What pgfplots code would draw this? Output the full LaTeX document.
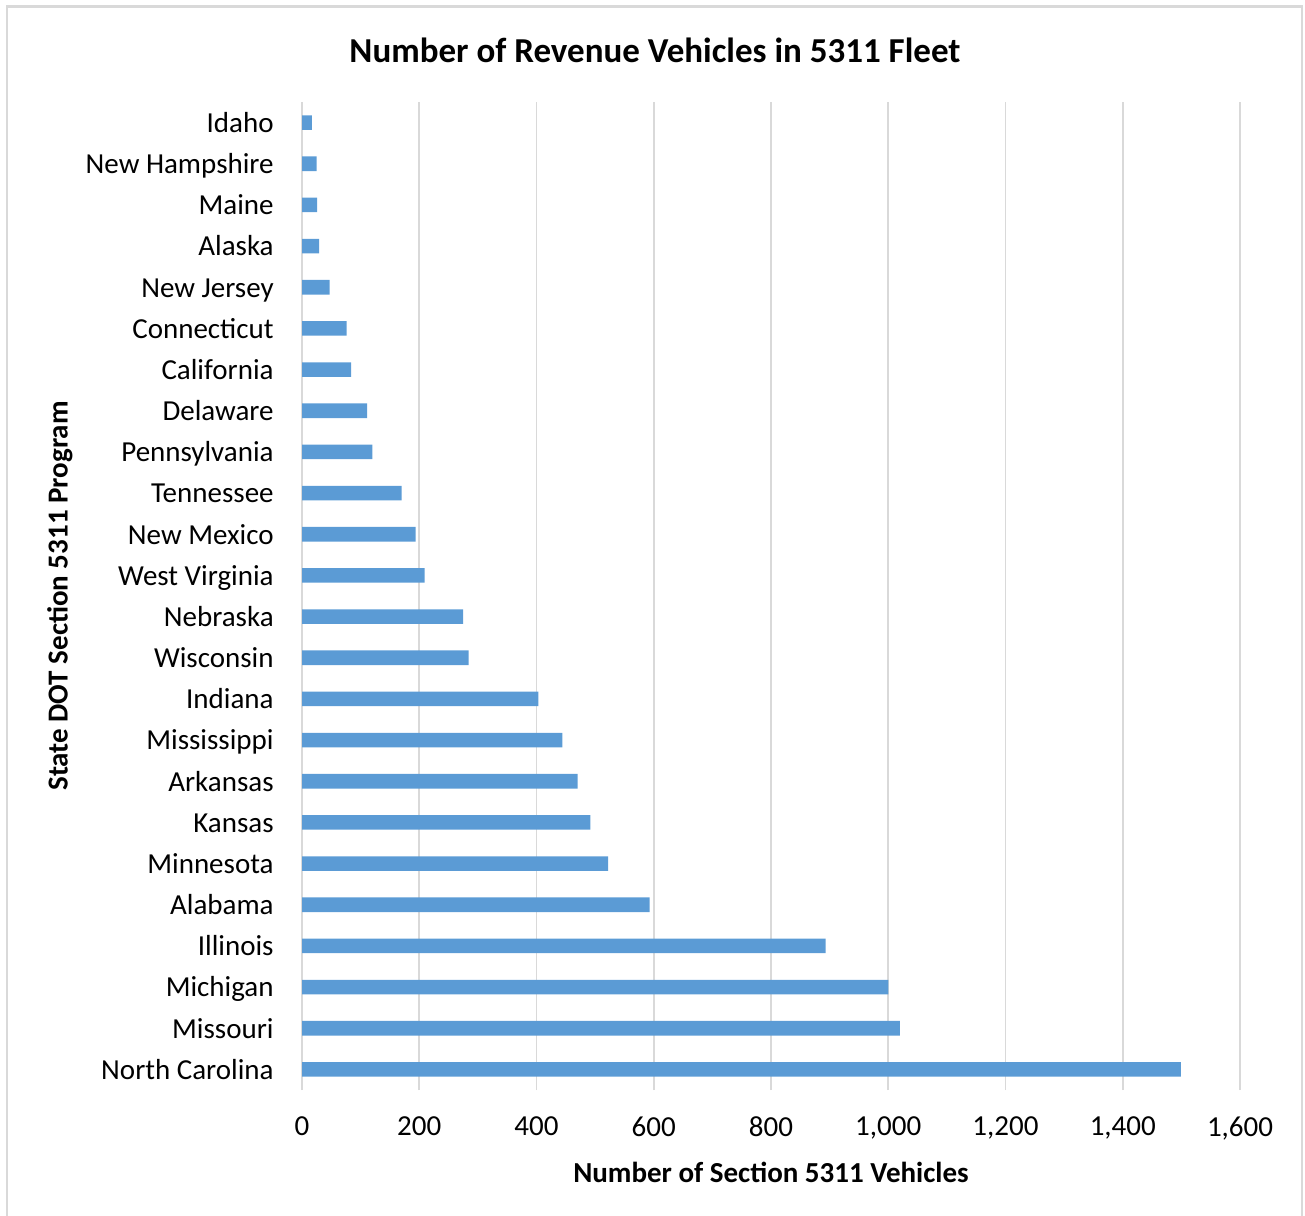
\documentclass[border=0pt]{standalone}
\usepackage{pgfplots}
\pgfplotsset{compat=1.18}
\usepackage{fontspec}
\setmainfont{Carlito}

\definecolor{barblue}{HTML}{5B9BD5}
\definecolor{gridgray}{HTML}{D9D9D9}
\definecolor{framegray}{HTML}{D9D9D9}

\pgfplotstableread{
idx value
0  1499
1  1020
2  1000
3  893
4  593
5  522
6  492
7  470
8  444
9  403
10 284
11 275
12 209
13 194
14 170
15 120
16 111
17 84
18 76
19 47
20 29
21 26
22 25
23 17
}\fleet

\begin{document}
\begin{tikzpicture}[x=1pt,y=1pt]
  % canvas and outer frame
  \useasboundingbox (0,0) rectangle (652.5,-607.5);
  \draw[framegray, line width=1.2pt] (3.5,-620) -- (3.5,-3.2) -- (651,-3.2) -- (651,-620);

  \begin{axis}[
    at={(151pt,-545pt)}, anchor=south west,
    scale only axis,
    width=469pt, height=494pt,
    xbar, bar width=7.3pt,
    xmin=0, xmax=1600,
    ymin=-0.5, ymax=23.5,
    xtick={0,200,...,1600},
    ytick={0,...,23},
    yticklabels={North Carolina,Missouri,Michigan,Illinois,Alabama,Minnesota,Kansas,Arkansas,Mississippi,Indiana,Wisconsin,Nebraska,West Virginia,New Mexico,Tennessee,Pennsylvania,Delaware,California,Connecticut,New Jersey,Alaska,Maine,New Hampshire,Idaho},
    axis line style={draw=none},
    major tick length=0pt,
    xmajorgrids,
    major grid style={gridgray, line width=0.8pt},
    tick label style={font=\fontsize{14.5}{17}\selectfont, text=black},
    yticklabel style={inner sep=0pt, xshift=-14pt, yshift=-1.3pt, text height=10.6pt, text depth=3.4pt},
    xticklabel style={inner sep=0pt, yshift=-13pt},
    /pgf/number format/.cd, 1000 sep={,}, assume math mode=true,
  ]
    \addplot[fill=barblue, draw=none] table[x=value, y=idx] {\fleet};
  \end{axis}

  % titles
  \node[font=\fontsize{17.5}{21}\selectfont\bfseries] at (327.5,-25) {Number of Revenue Vehicles in 5311 Fleet};
  \node[font=\fontsize{14.5}{17}\selectfont\bfseries] at (385.5,-586) {Number of Section 5311 Vehicles};
  \node[font=\fontsize{14.5}{17}\selectfont\bfseries, rotate=90] at (30,-298) {State DOT Section 5311 Program};
\end{tikzpicture}
\end{document}
